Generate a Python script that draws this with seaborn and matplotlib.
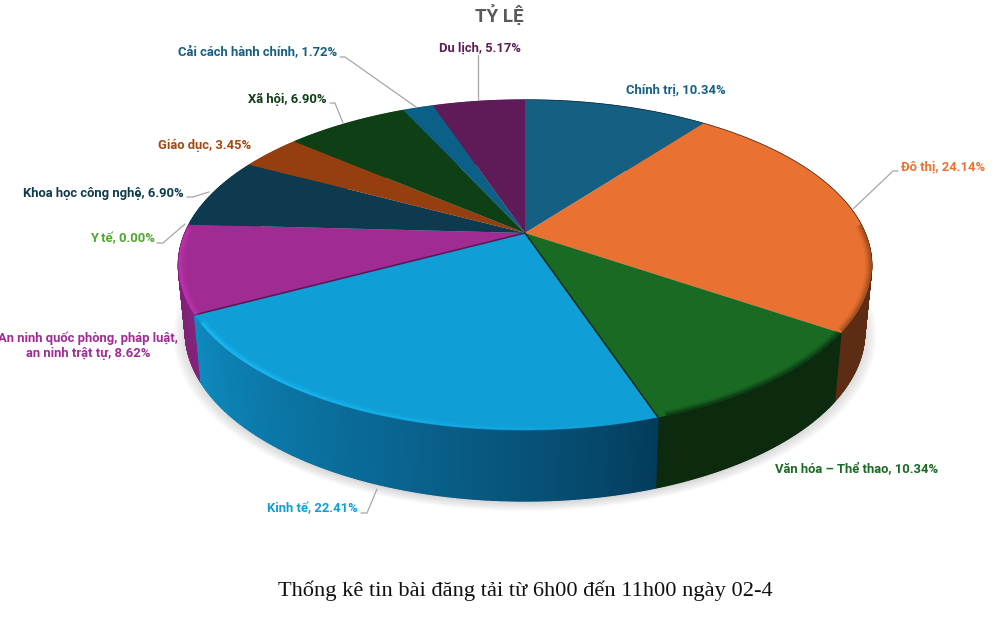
"""Pseudo 3D pie of article share per topic, drawn on a pixel sized axes."""

import matplotlib.pyplot as plt
import numpy as np
import seaborn as sns
from matplotlib.colors import to_rgb

topics = [
    "Chính trị", "Đô thị", "Văn hóa – Thể thao", "Kinh tế",
    "An ninh quốc phòng, pháp luật,\nan ninh trật tự", "Y tế",
    "Khoa học công nghệ", "Giáo dục", "Xã hội", "Cải cách hành chính", "Du lịch",
]
shares = [10.34, 24.14, 10.34, 22.41, 8.62, 0.00, 6.90, 3.45, 6.90, 1.72, 5.17]
title = "TỶ LỆ"
caption = "Thống kê tin bài đăng tải từ 6h00 đến 11h00 ngày 02-4"

top_colors = ["#156082", "#E97132", "#196B24", "#0F9ED5", "#A02B93", "#4EA72E",
              "#0D3A4E", "#953E10", "#0F3F14", "#0B6087", "#5F1B57"]
label_colors = ["#156082", "#E97132", "#196B24", "#0F9ED5", "#A02B93", "#4EA72E",
                "#0D3A4E", "#A5480F", "#0F3F14", "#156082", "#5F1B57"]
side_from = ["#0A3044", "#5C2C14", "#0B2A0E", "#043A5A", "#84237A", "#4EA72E",
             "#0D3A4E", "#953E10", "#0F3F14", "#0B6087", "#5F1B57"]
side_to = ["#0A3044", "#5C2C14", "#0B2A0E", "#0E8ABF", "#7A1F70", "#4EA72E",
           "#0D3A4E", "#953E10", "#0F3F14", "#0B6087", "#5F1B57"]
# bevel colour and strength per slice
rim_colors = ["#156082", "#8A4118", "#0E3C14", "#1BB8F5", "#BC32AD", "#4EA72E",
              "#0D3A4E", "#953E10", "#0F3F14", "#0B6087", "#5F1B57"]
rim_strength = [0, 0.55, 0.9, 1, 1, 0, 0, 0, 0, 0, 0]

# pixel placement of each label: x, y, alignment
label_pos = [(626, 90, "left"), (901, 167, "left"), (775, 470, "left"), (358, 509, "right"),
             (88, 346, "center"), (155, 239, "right"), (184, 193, "right"), (251, 146, "right"),
             (327, 99, "right"), (337, 53, "right"), (521, 48, "right")]
leaders = [None,
           [(898, 171), (893, 171), (853, 209)],
           None,
           [(361, 513), (367, 513), (377, 489)],
           None,
           [(157, 243), (163, 243), (185, 224)],
           [(187, 197), (193, 197), (209, 192)],
           None,
           [(330, 103), (335, 103), (343, 123)],
           [(340, 57), (345, 57), (416, 107)],
           [(478, 55), (478, 100)]]


def project(theta, scale=1.0, yscale=None, drop=0.0):
    """Tilted disc to pixels, theta is clockwise from 12 o'clock."""
    u, v = np.sin(theta), np.cos(theta)
    w = 1 + 0.194 * v
    x = 525 + scale * 340 * u / w
    y = 233 + drop - (yscale or scale) * 158.8 * v / w
    return x, y


sns.set_theme(style="white")
plt.rcParams["font.family"] = ["Roboto", "DejaVu Sans"]

fig, ax = plt.subplots(figsize=(10.02, 6.27), dpi=100)
fig.subplots_adjust(left=0, right=1, top=1, bottom=0)
ax.set_xlim(0, 1002)
ax.set_ylim(627, 0)
ax.axis("off")

edges = np.cumsum([0] + shares) / np.sum(shares) * 2 * np.pi
fill_palette = sns.color_palette(top_colors)

# soft shadow under the disc
ring = np.linspace(0, 2 * np.pi, 240)
for grow in np.linspace(1.035, 0.99, 10):
    sx, sy = project(ring, scale=0.98 * grow, yscale=1.025 * grow, drop=69)
    ax.fill(sx, sy, color="#8C8C8C", alpha=0.04, lw=0, zorder=1)

# wall of the disc, back to front
strips = []
for i in range(len(shares)):
    if shares[i] == 0:
        continue
    cuts = np.linspace(edges[i], edges[i + 1], max(3, int(shares[i] * 14)))
    for j in range(len(cuts) - 1):
        strips.append((np.cos(cuts[j]), i, cuts[j], cuts[j + 1], j / (len(cuts) - 2)))
for _, i, a, b, frac in sorted(strips, key=lambda s: -s[0]):
    arc = np.linspace(a, b, 3)
    tx, ty = project(arc)
    bx, by = project(arc[::-1], scale=0.98, yscale=1.025, drop=66)
    frac = frac ** 0.8
    col = (1 - frac) * np.array(to_rgb(side_from[i])) + frac * np.array(to_rgb(side_to[i]))
    ax.fill(np.r_[tx, bx], np.r_[ty, by], fc=col, ec=col, lw=1.0, zorder=2)

# top faces
for i in range(len(shares)):
    if shares[i] == 0:
        continue
    arc = np.linspace(edges[i], edges[i + 1], 120)
    x, y = project(arc)
    ax.fill(np.r_[525, x], np.r_[233, y], color=fill_palette[i], lw=0, zorder=3)

# dark seams where the front slices meet
for i, seam in [(3, "#0A2A10"), (4, "#5A1552")]:
    x, y = project(edges[i])
    ax.plot([525, x], [233, y], color=seam, lw=1.1, zorder=4)

# bevel along the near rim, the blue highlight dies out towards the right
for i in range(len(shares)):
    if rim_strength[i] == 0:
        continue
    arc = np.linspace(edges[i], edges[i + 1], 121)
    arc = arc[np.cos(arc) < 0.05]
    pieces = np.array_split(arc, 24)
    for k in range(len(pieces) - 1):
        part = np.r_[pieces[k], pieces[k + 1][0]]
        fade = (k + 1) / len(pieces) if i == 3 else 1.0
        for inset, width, alpha in [(0.990, 4.0, 0.3), (0.994, 2.6, 0.55), (0.997, 1.4, 0.85)]:
            x, y = project(part, scale=inset)
            ax.plot(x, y, color=rim_colors[i], lw=width, alpha=alpha * rim_strength[i] * fade,
                    solid_capstyle="butt", zorder=5)

# labels and leader lines
for i, name in enumerate(topics):
    x, y, align = label_pos[i]
    ax.text(x, y, f"{name}, {shares[i]:.2f}%", color=label_colors[i], fontsize=9.35, fontweight="bold",
            ha=align, va="center", linespacing=1.25, multialignment="center", zorder=7)
    if leaders[i]:
        lx, ly = zip(*leaders[i])
        ax.plot(lx, ly, color="#A6A6A6", lw=0.9, zorder=6)

ax.text(499, 15, title, color="#595959", fontsize=13.5, fontweight="bold", ha="center", va="center")
ax.text(525, 591, caption, color="#111111", fontsize=16.15, ha="center", va="center",
        family=["Liberation Serif", "DejaVu Serif"])

fig.savefig("out.png", dpi=100)
plt.close(fig)
